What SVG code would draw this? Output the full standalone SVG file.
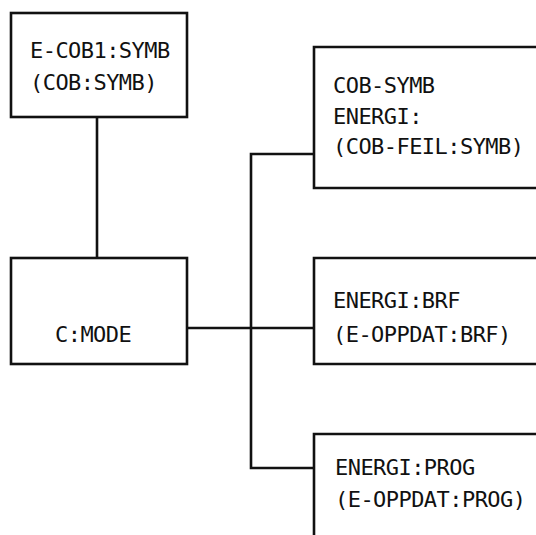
<svg xmlns="http://www.w3.org/2000/svg" width="536" height="535" viewBox="0 0 536 535">
<style>
.b{fill:none;stroke:#111;stroke-width:2.6;stroke-linecap:square}
.c{fill:none;stroke:#111;stroke-width:2.6}
text{font-family:"DejaVu Sans Mono","Liberation Mono",monospace;font-size:22px;letter-spacing:-0.55px;fill:#111}
</style>
<rect width="536" height="535" fill="#fff"/>
<g id="connectors">
<path class="c" d="M97 117V258"/>
<path class="c" d="M187 328H314"/>
<path class="c" d="M314 154H251V468H314"/>
</g>
<g id="e-cob1-symb">
<rect class="b" x="11" y="13" width="176" height="104"/>
<text x="30" y="58">E-COB1:SYMB</text>
<text x="30" y="90">(COB:SYMB)</text>
</g>
<g id="c-mode">
<rect class="b" x="11" y="258" width="176" height="106"/>
<text x="55" y="342">C:MODE</text>
</g>
<g id="cob-symb-energi">
<path class="b" d="M540 47H314V188H540"/>
<text x="333" y="93">COB-SYMB</text>
<text x="333" y="124">ENERGI:</text>
<text x="333" y="154">(COB-FEIL:SYMB)</text>
</g>
<g id="energi-brf">
<path class="b" d="M540 258H314V364H540"/>
<text x="333" y="308">ENERGI:BRF</text>
<text x="333" y="342">(E-OPPDAT:BRF)</text>
</g>
<g id="energi-prog">
<path class="b" d="M540 434H314V540"/>
<text x="335" y="475">ENERGI:PROG</text>
<text x="335" y="507">(E-OPPDAT:PROG)</text>
</g>
</svg>
